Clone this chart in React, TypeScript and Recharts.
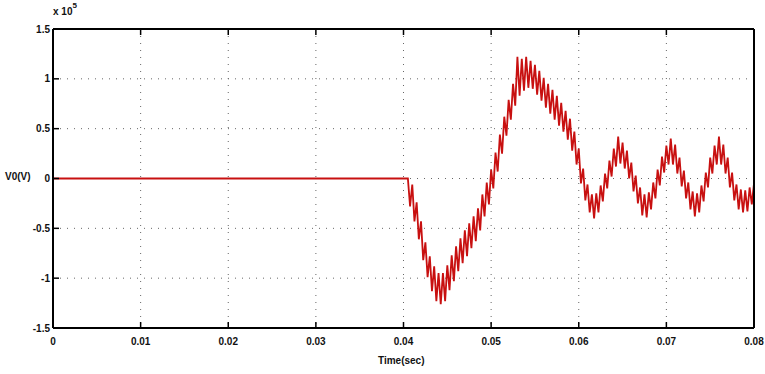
import { LineChart, Line, XAxis, YAxis, CartesianGrid } from "recharts";

// time (s) and output voltage (x 10^5 V)
const TIME = [
  0, 0.0405, 0.04075,
  0.041, 0.04125, 0.0415, 0.04175, 0.042, 0.04225, 0.0425, 0.04275, 0.043, 0.04325,
  0.0435, 0.04375, 0.044, 0.04425, 0.0445, 0.04475, 0.045, 0.04525, 0.0455, 0.04575,
  0.046, 0.04625, 0.0465, 0.04675, 0.047, 0.04725, 0.0475, 0.04775, 0.048, 0.04825,
  0.0485, 0.04875, 0.049, 0.04925, 0.0495, 0.04975, 0.05, 0.05025, 0.0505, 0.05075,
  0.051, 0.05125, 0.0515, 0.05175, 0.052, 0.05225, 0.0525, 0.05275, 0.053, 0.05325,
  0.0535, 0.05375, 0.054, 0.05425, 0.0545, 0.05475, 0.055, 0.05525, 0.0555, 0.05575,
  0.056, 0.05625, 0.0565, 0.05675, 0.057, 0.05725, 0.0575, 0.05775, 0.058, 0.05825,
  0.0585, 0.05875, 0.059, 0.05925, 0.0595, 0.05975, 0.06, 0.06025, 0.0605, 0.06075,
  0.061, 0.06125, 0.0615, 0.06175, 0.062, 0.06225, 0.0625, 0.06275, 0.063, 0.06325,
  0.0635, 0.06375, 0.064, 0.06425, 0.0645, 0.06475, 0.065, 0.06525, 0.0655, 0.06575,
  0.066, 0.06625, 0.0665, 0.06675, 0.067, 0.06725, 0.0675, 0.06775, 0.068, 0.06825,
  0.0685, 0.06875, 0.069, 0.06925, 0.0695, 0.06975, 0.07, 0.07025, 0.0705, 0.07075,
  0.071, 0.07125, 0.0715, 0.07175, 0.072, 0.07225, 0.0725, 0.07275, 0.073, 0.07325,
  0.0735, 0.07375, 0.074, 0.07425, 0.0745, 0.07475, 0.075, 0.07525, 0.0755, 0.07575,
  0.076, 0.07625, 0.0765, 0.07675, 0.077, 0.07725, 0.0775, 0.07775, 0.078, 0.07825,
  0.0785, 0.07875, 0.079, 0.07925, 0.0795, 0.07975, 0.08,
];

const V0 = [
  0, 0, -0.28,
  -0.06, -0.43, -0.24, -0.61, -0.43, -0.82, -0.64, -0.99, -0.78, -1.13,
  -0.88, -1.23, -0.95, -1.26, -0.95, -1.23, -0.87, -1.12, -0.77, -1.03,
  -0.68, -0.93, -0.6, -0.85, -0.52, -0.78, -0.45, -0.7, -0.38, -0.63,
  -0.3, -0.52, -0.16, -0.38, -0.04, -0.26, 0.09, -0.1, 0.26, 0.07,
  0.44, 0.25, 0.62, 0.43, 0.79, 0.59, 0.95, 0.73, 1.22, 0.83,
  1.2, 0.88, 1.22, 0.91, 1.18, 0.9, 1.14, 0.84, 1.08, 0.78,
  1.01, 0.71, 0.95, 0.65, 0.89, 0.59, 0.83, 0.53, 0.76, 0.47,
  0.68, 0.39, 0.6, 0.28, 0.47, 0.14, 0.3, -0.05, 0.1, -0.22,
  -0.06, -0.34, -0.16, -0.4, -0.15, -0.34, -0.07, -0.23, 0.05, -0.1,
  0.18, 0.02, 0.3, 0.12, 0.42, 0.15, 0.36, 0.1, 0.28, 0.0,
  0.16, -0.13, 0.03, -0.25, -0.09, -0.37, -0.16, -0.39, -0.14, -0.31,
  -0.04, -0.2, 0.09, -0.07, 0.22, 0.06, 0.33, 0.14, 0.4, 0.14,
  0.34, 0.05, 0.21, -0.08, 0.08, -0.2, -0.04, -0.31, -0.13, -0.38,
  -0.15, -0.34, -0.07, -0.23, 0.06, -0.09, 0.21, 0.05, 0.33, 0.14,
  0.42, 0.14, 0.34, 0.05, 0.21, -0.09, 0.06, -0.22, -0.06, -0.31,
  -0.11, -0.34, -0.12, -0.33, -0.09, -0.26, -0.05,
];

const X_TICKS = [0, 0.01, 0.02, 0.03, 0.04, 0.05, 0.06, 0.07, 0.08];
const Y_TICKS = [-1.5, -1, -0.5, 0, 0.5, 1, 1.5];

const data = TIME.map((t, i) => ({ t, v: V0[i] }));

const font = { fontSize: 10, fontWeight: 700, fill: "#111", fontFamily: "Liberation Sans, Arial, sans-serif" };
const label = {
  position: "absolute" as const,
  fontSize: 10,
  fontWeight: 700,
  color: "#111",
  fontFamily: "Liberation Sans, Arial, sans-serif",
  whiteSpace: "nowrap" as const,
};

export default function App() {
  return (
    <div style={{ position: "absolute", left: 0, top: 0, width: 765, height: 374, background: "#fff" }}>
      <LineChart width={765} height={374} data={data} margin={{ top: 19, right: 1, left: 13, bottom: 16 }}>
        <CartesianGrid
          xAxisId="bottom"
          yAxisId="left"
          stroke="#666"
          strokeDasharray="1 6"
        />
        <XAxis
          xAxisId="bottom"
          dataKey="t"
          type="number"
          domain={[0, 0.08]}
          ticks={X_TICKS}
          height={30}
          tickSize={-6}
          tickMargin={16}
          tick={font}
          axisLine={{ stroke: "#000", strokeWidth: 2 }}
          tickLine={{ stroke: "#000", strokeWidth: 1.5 }}
          interval={0}
          allowDataOverflow
        />
        <XAxis
          xAxisId="top"
          orientation="top"
          dataKey="t"
          type="number"
          domain={[0, 0.08]}
          ticks={X_TICKS}
          height={10}
          tickSize={-6}
          tickFormatter={() => ""}
          axisLine={{ stroke: "#000", strokeWidth: 2 }}
          tickLine={{ stroke: "#000", strokeWidth: 1.5 }}
          interval={0}
        />
        <YAxis
          yAxisId="left"
          type="number"
          domain={[-1.5, 1.5]}
          ticks={Y_TICKS}
          width={40}
          tickSize={-6}
          tickMargin={9}
          tick={font}
          axisLine={{ stroke: "#000", strokeWidth: 2 }}
          tickLine={{ stroke: "#000", strokeWidth: 1.5 }}
          interval={0}
          allowDataOverflow
        />
        <YAxis
          yAxisId="right"
          orientation="right"
          type="number"
          domain={[-1.5, 1.5]}
          ticks={Y_TICKS}
          width={10}
          tickSize={-6}
          tickFormatter={() => ""}
          axisLine={{ stroke: "#000", strokeWidth: 2 }}
          tickLine={{ stroke: "#000", strokeWidth: 1.5 }}
          interval={0}
        />
        <Line
          xAxisId="bottom"
          yAxisId="left"
          dataKey="v"
          type="linear"
          stroke="#c81010"
          strokeWidth={1.8}
          dot={false}
          isAnimationActive={false}
        />
      </LineChart>
      <div style={{ ...label, left: 53, top: 6 }}>
        x 10<sup style={{ fontSize: 8, verticalAlign: "top", position: "relative", top: -5 }}>5</sup>
      </div>
      <div style={{ ...label, left: 5, top: 171 }}>V0(V)</div>
      <div style={{ ...label, left: 378, top: 355 }}>Time(sec)</div>
    </div>
  );
}
